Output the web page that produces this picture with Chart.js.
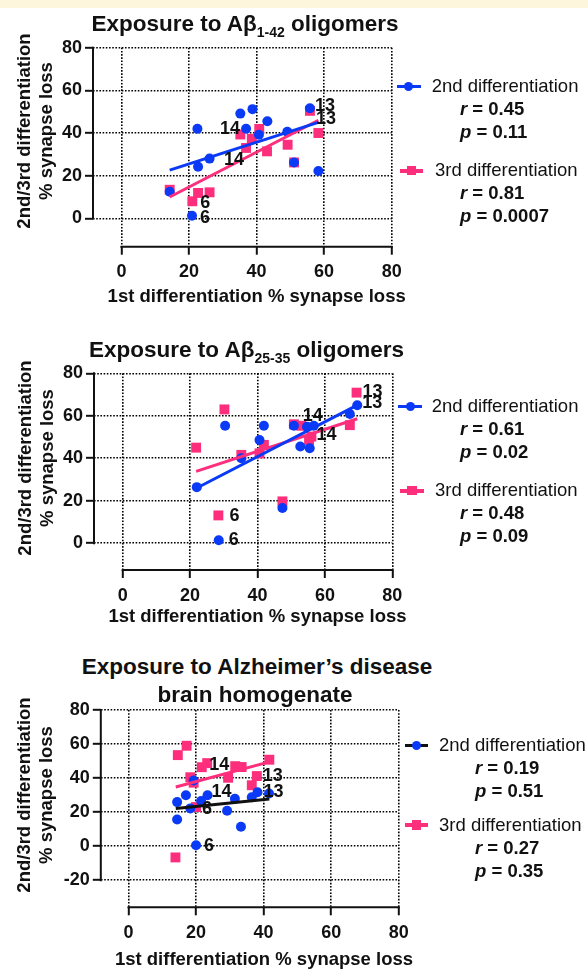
<!DOCTYPE html>
<html>
<head>
<meta charset="utf-8">
<script src="https://cdn.jsdelivr.net/npm/chart.js@4.4.0/dist/chart.umd.min.js"></script>
<style>
  body { margin: 0; background: #fff; font-family: "Liberation Sans", Arial, sans-serif; }
  #page { position: relative; width: 588px; height: 969px; overflow: hidden; background: #fff; }
  .strip { position: absolute; left: 0; top: 0; width: 588px; height: 8px; background: #fdf5dc; }
  .box { position: absolute; left: 0; width: 588px; }
  .t { position: absolute; white-space: nowrap; color: #111; z-index: 2; }
  .rot { position: absolute; white-space: nowrap; color: #111; z-index: 2; text-align: center;
         font-weight: bold; font-size: 18.5px; line-height: 22px; transform: translate(-50%, -50%) rotate(-90deg); }
  .sub { font-size: 14px; position: relative; top: 6px; }
  .mk { position: absolute; z-index: 2; }
</style>
</head>
<body>
<div id="page">
  <div class="strip"></div>
  <div class="box" id="b1"><canvas id="c1"></canvas></div>
  <div class="box" id="b2"><canvas id="c2"></canvas></div>
  <div class="box" id="b3"><canvas id="c3"></canvas></div>
</div>
<script>
const BLUE = '#0a3af6';
const PINK = '#fd2e7c';
const INK = '#111';

const xTicks = [0, 20, 40, 60, 80];
const yTicks = [0, 20, 40, 60, 80];
const yTicksAD = [-20, 0, 20, 40, 60, 80];

// Aβ1-42 oligomers
const ab42X2 = [14.3, 20.9, 22.5, 22.7, 26.1, 35.2, 36.9, 38.8, 40.7, 43.2, 49.1, 51.1, 55.8, 58.3];
const ab42Y2 = [12.5, 1.2, 42.0, 24.2, 28.0, 49.1, 42.0, 51.2, 39.2, 45.5, 40.6, 26.2, 51.6, 22.2];
const ab42Tag2 = ['', '6', '', '', '', '', '14', '', '', '', '', '', '13', ''];
const ab42X3 = [14.3, 21.0, 22.7, 26.1, 35.2, 36.9, 38.6, 40.8, 43.1, 49.2, 51.1, 55.8, 58.3];
const ab42Y3 = [13.4, 8.0, 11.9, 12.2, 39.3, 33.0, 37.3, 41.9, 31.4, 34.5, 26.2, 50.4, 40.0];
const ab42Tag3 = ['', '6', '', '', '', '14', '', '', '', '', '', '13', ''];
const ab42Fit2X = [14.3, 58.3];
const ab42Fit2Y = [22.6, 45.0];
const ab42Fit3X = [14.3, 58.3];
const ab42Fit3Y = [10.0, 46.0];

// Aβ25-35 oligomers
const ab25X2 = [22.0, 28.5, 30.4, 35.2, 40.6, 41.9, 47.4, 50.8, 52.7, 54.7, 55.5, 56.7, 67.4, 69.6];
const ab25Y2 = [26.4, 1.4, 55.3, 40.0, 48.6, 55.3, 16.6, 55.3, 45.5, 54.8, 44.7, 55.3, 60.8, 65.0];
const ab25Tag2 = ['', '6', '', '', '', '', '', '', '', '', '', '14', '', '13'];
const ab25X3 = [21.8, 28.4, 30.2, 35.2, 40.6, 41.9, 47.4, 50.8, 53.0, 55.3, 56.0, 67.4, 69.4];
const ab25Y3 = [45.0, 13.1, 63.0, 41.6, 42.3, 46.3, 19.7, 56.0, 55.3, 48.3, 50.2, 55.6, 70.9];
const ab25Tag3 = ['', '6', '', '', '', '', '', '', '', '', '14', '', '13'];
const ab25Fit2X = [22.0, 69.6];
const ab25Fit2Y = [26.0, 65.0];
const ab25Fit3X = [21.8, 69.6];
const ab25Fit3Y = [33.8, 58.6];

// Alzheimer's disease brain homogenate
const adX2 = [14.4, 14.4, 17.0, 18.3, 19.3, 20.0, 21.5, 23.4, 29.2, 31.5, 33.3, 36.5, 38.2, 41.6];
const adY2 = [25.9, 15.7, 29.9, 22.2, 38.6, 0.6, 26.5, 29.9, 20.8, 27.8, 11.4, 28.7, 31.7, 31.0];
const adTag2 = ['', '', '', '', '', '6', '', '14', '', '', '', '', '13', ''];
const adX3 = [13.9, 14.6, 17.2, 18.3, 19.3, 20.0, 21.7, 23.3, 29.5, 31.6, 33.5, 36.5, 38.0, 41.7];
const adY3 = [-6.6, 53.5, 59.0, 40.5, 37.3, 23.0, 46.4, 48.8, 40.2, 47.0, 46.5, 35.8, 41.2, 50.8];
const adTag3 = ['', '', '', '', '', '6', '', '14', '', '', '', '', '13', ''];
const adFit2X = [14.0, 41.7];
const adFit2Y = [22.2, 27.7];
const adFit3X = [14.0, 41.7];
const adFit3Y = [34.8, 49.5];

// correlation stats shown in the legends
const statR2 = ['0.45', '0.61', '0.19'];
const statP2 = ['0.11', '0.02', '0.51'];
const statR3 = ['0.81', '0.48', '0.27'];
const statP3 = ['0.0007', '0.09', '0.35'];

const pts = (xs, ys) => xs.map((x, i) => ({ x, y: ys[i] }));

// solid axis lines (GraphPad style, offset from the corner)
const axisLines = {
    id: 'axisLines',
    beforeDatasetsDraw(chart, args, o) {
        const { ctx, chartArea: a, scales: { x, y } } = chart;
        ctx.save();
        ctx.strokeStyle = INK;
        ctx.lineWidth = 2;
        ctx.beginPath();
        ctx.moveTo(a.left, y.getPixelForValue(o.yFrom) + 1);
        ctx.lineTo(a.left, y.getPixelForValue(80) - 1);
        ctx.moveTo(x.getPixelForValue(0) - 1, a.bottom);
        ctx.lineTo(x.getPixelForValue(80) + 1, a.bottom);
        ctx.stroke();
        ctx.restore();
    }
};

// line numbers next to some points
const tags = {
    id: 'tags',
    afterDatasetsDraw(chart, args, o) {
        const ctx = chart.ctx;
        chart.data.datasets.forEach((ds, di) => {
            if (!ds.tags) return;
            const meta = chart.getDatasetMeta(di);
            ds.tags.forEach((t, i) => {
                if (!t) return;
                const el = meta.data[i];
                const p = o.place[ds.key][t];
                ctx.save();
                ctx.font = 'bold 18px "Liberation Sans", Arial, sans-serif';
                ctx.fillStyle = INK;
                ctx.textAlign = p[0];
                ctx.textBaseline = 'middle';
                ctx.fillText(t, el.x + p[1], el.y + p[2]);
                ctx.restore();
            });
        });
    }
};

function makePanel(boxId, canvasId, g, d) {
    const box = document.getElementById(boxId);
    box.style.top = g.top + 'px';
    box.style.height = g.h + 'px';

    const tickFont = { family: '"Liberation Sans", Arial, sans-serif', size: 18, weight: 'bold' };
    const gridStyle = { color: '#000', lineWidth: 1.6, drawTicks: true, tickLength: 8, tickWidth: 2, tickColor: INK };

    new Chart(document.getElementById(canvasId), {
        type: 'scatter',
        data: {
            datasets: [
                { type: 'line', data: pts(d.f2x, d.f2y), borderColor: d.fit2Color, borderWidth: 3,
                  pointRadius: 0, fill: false, order: 0, clip: false },
                { type: 'line', data: pts(d.f3x, d.f3y), borderColor: PINK, borderWidth: 3,
                  pointRadius: 0, fill: false, order: 0, clip: false },
                { key: 'b', data: pts(d.x2, d.y2), tags: d.t2, pointStyle: 'circle', pointRadius: 5,
                  backgroundColor: BLUE, borderColor: BLUE, borderWidth: 0, order: 1, clip: false },
                { key: 'p', data: pts(d.x3, d.y3), tags: d.t3, pointStyle: 'rect', pointRadius: 7,
                  backgroundColor: PINK, borderColor: PINK, borderWidth: 0, order: 2, clip: false }
            ]
        },
        options: {
            responsive: true,
            maintainAspectRatio: false,
            animation: false,
            events: [],
            layout: { padding: { top: g.aTop - g.top, right: 588 - g.right, left: 0, bottom: 0 } },
            plugins: {
                legend: { display: false },
                tooltip: { enabled: false },
                axisLines: { yFrom: g.yTicks[0] },
                tags: { place: d.place }
            },
            scales: {
                x: {
                    type: 'linear', min: g.xMin, max: 80,
                    afterBuildTicks: s => { s.ticks = xTicks.map(v => ({ value: v })); },
                    afterFit: s => { s.height = g.top + g.h - g.aBottom; },
                    grid: gridStyle,
                    border: { display: false, dash: [1.6, 1.6] },
                    ticks: { color: INK, font: tickFont, padding: 7, autoSkip: false, maxRotation: 0 }
                },
                y: {
                    type: 'linear', min: g.yMin, max: 80,
                    afterBuildTicks: s => { s.ticks = g.yTicks.map(v => ({ value: v })); },
                    afterFit: s => { s.width = g.left; },
                    grid: gridStyle,
                    border: { display: false, dash: [1.6, 1.6] },
                    ticks: { color: INK, font: tickFont, padding: 3, autoSkip: false }
                }
            }
        },
        plugins: [axisLines, tags]
    });
}

// ---------- html text ----------
const page = document.getElementById('page');

function put(html, x, cy, size, bold, center) {
    const el = document.createElement('div');
    el.className = 't';
    el.innerHTML = html;
    el.style.fontSize = size + 'px';
    el.style.lineHeight = size + 'px';
    el.style.fontWeight = bold ? 'bold' : 'normal';
    el.style.left = x + 'px';
    el.style.top = (cy - size / 2) + 'px';
    if (center) el.style.transform = 'translateX(-50%)';
    page.appendChild(el);
}

function yTitle(cx, cy) {
    const el = document.createElement('div');
    el.className = 'rot';
    el.innerHTML = '2nd/3rd differentiation<br>% synapse loss';
    el.style.left = cx + 'px';
    el.style.top = cy + 'px';
    page.appendChild(el);
}

function swatch(x1, x2, y, lineColor, lw, markColor, shape, size) {
    const ln = document.createElement('div');
    ln.className = 'mk';
    ln.style.cssText += `left:${x1}px;top:${y - lw / 2}px;width:${x2 - x1}px;height:${lw}px;background:${lineColor};`;
    page.appendChild(ln);
    const m = document.createElement('div');
    m.className = 'mk';
    const cx = (x1 + x2) / 2;
    m.style.cssText += `left:${cx - size / 2}px;top:${y - size / 2}px;width:${size}px;height:${size}px;background:${markColor};` +
        (shape === 'circle' ? 'border-radius:50%;' : '');
    page.appendChild(m);
}

function legend(i, L) {
    swatch(L.s2[0], L.s2[1], L.y2, L.line2, 3, BLUE, 'circle', 9);
    put('2nd differentiation', L.lx2, L.y2, 18.5, false, false);
    put('<i>r</i> = ' + statR2[i], L.sx, L.y2 + 22.8, 18.5, true, false);
    put('<i>p</i> = ' + statP2[i], L.sx, L.y2 + 46, 18.5, true, false);
    swatch(L.s3[0], L.s3[1], L.y3, PINK, 4, PINK, 'rect', 9.5);
    put('3rd differentiation', L.lx3, L.y3, 18.5, false, false);
    put('<i>r</i> = ' + statR3[i], L.sx, L.y3 + 22.8, 18.5, true, false);
    put('<i>p</i> = ' + statP3[i], L.sx, L.y3 + 46, 18.5, true, false);
}

// ---------- panel 1 ----------
makePanel('b1', 'c1',
    { top: 0, h: 290, left: 93, right: 391.7, aTop: 47.7, aBottom: 246.7, xMin: -8.4, yMin: -13.3, yTicks },
    { x2: ab42X2, y2: ab42Y2, t2: ab42Tag2, x3: ab42X3, y3: ab42Y3, t3: ab42Tag3,
      f2x: ab42Fit2X, f2y: ab42Fit2Y, f3x: ab42Fit3X, f3y: ab42Fit3Y, fit2Color: BLUE,
      place: { b: { '6': ['left', 8, 2], '14': ['right', -6, 0], '13': ['left', 5, -2] },
               p: { '6': ['left', 8, 2], '14': ['right', -2, 12], '13': ['left', 6, 8] } } });
put('Exposure to Aβ<span class="sub">1-42</span> oligomers', 245, 24, 22.5, true, true);
yTitle(35, 131);
put('1st differentiation % synapse loss', 256.7, 296.7, 18.5, true, true);
legend(0, { s2: [396.7, 420.7], y2: 86.6, line2: BLUE, lx2: 431.7, s3: [400, 423.3], y3: 170.7, lx3: 435, sx: 460 });

// ---------- panel 2 ----------
makePanel('b2', 'c2',
    { top: 330, h: 290, left: 94, right: 392.3, aTop: 373.3, aBottom: 570, xMin: -8.5, yMin: -12.6, yTicks },
    { x2: ab25X2, y2: ab25Y2, t2: ab25Tag2, x3: ab25X3, y3: ab25Y3, t3: ab25Tag3,
      f2x: ab25Fit2X, f2y: ab25Fit2Y, f3x: ab25Fit3X, f3y: ab25Fit3Y, fit2Color: BLUE,
      place: { b: { '6': ['left', 10, 0], '14': ['center', -1, -10], '13': ['left', 5, -2] },
               p: { '6': ['left', 11, 1], '14': ['left', 5, -2], '13': ['left', 6, -1] } } });
put('Exposure to Aβ<span class="sub">25-35</span> oligomers', 246.5, 350, 22.5, true, true);
yTitle(36, 458);
put('1st differentiation % synapse loss', 257.5, 616.7, 18.5, true, true);
legend(1, { s2: [398, 422], y2: 406.5, line2: BLUE, lx2: 431.7, s3: [400, 424], y3: 490.5, lx3: 435, sx: 460 });

// ---------- panel 3 ----------
makePanel('b3', 'c3',
    { top: 690, h: 260, left: 100.8, right: 398.7, aTop: 710, aBottom: 907.3, xMin: -8.2, yMin: -35.9, yTicks: yTicksAD },
    { x2: adX2, y2: adY2, t2: adTag2, x3: adX3, y3: adY3, t3: adTag3,
      f2x: adFit2X, f2y: adFit2Y, f3x: adFit3X, f3y: adFit3Y, fit2Color: INK,
      place: { b: { '6': ['left', 8, 1], '14': ['left', 4, -3], '13': ['left', 6, 0] },
               p: { '6': ['left', 6, 2], '14': ['left', 2, 2], '13': ['left', 6, 0] } } });
put('Exposure to Alzheimer’s disease', 257, 667.5, 22.5, true, true);
put('brain homogenate', 255, 695, 22.5, true, true);
yTitle(35.3, 795);
put('1st differentiation % synapse loss', 264, 959, 18.5, true, true);
legend(2, { s2: [405, 428.3], y2: 745, line2: INK, lx2: 439, s3: [405, 428], y3: 825, lx3: 439, sx: 475 });
</script>
</body>
</html>
